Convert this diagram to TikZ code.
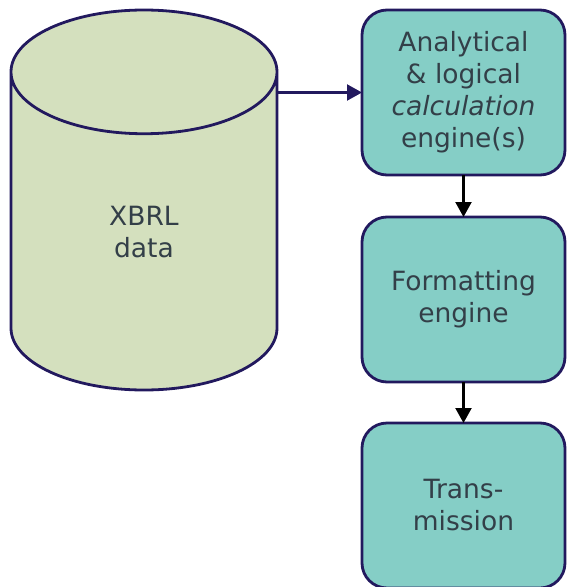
\documentclass[tikz,border=0pt]{standalone}
\usepackage{fontspec}
\setmainfont{DejaVu Sans}
\usetikzlibrary{positioning,shapes.geometric,arrows.meta}
\definecolor{navy}{HTML}{22195E}
\definecolor{sage}{HTML}{D4E0BE}
\definecolor{teal}{HTML}{85CEC6}
\definecolor{slate}{HTML}{333F48}
\begin{document}
\begin{tikzpicture}[x=1pt, y=-1pt,
			engine/.style={
				rectangle,
				rounded corners = 25pt,
				draw = navy,
				line width = 2.8pt,
				fill = teal,
				text = slate,
				align = center,
				font = \fontsize{26.5}{32}\selectfont,
				minimum width = 203pt,
				minimum height = 165pt,
				inner sep = 0pt,
				outer sep = 0pt},
			tank/.style={
				cylinder,
				shape border rotate = 90,
				aspect = 1.78,
				draw = navy,
				line width = 2.8pt,
				fill = sage,
				text = slate,
				align = center,
				font = \fontsize{26.5}{32}\selectfont,
				minimum width = 266pt,
				minimum height = 380pt,
				inner sep = 0pt,
				outer sep = 0pt},
			flow/.style={
				line width = 2.2pt,
				-{Triangle[length=15pt, width=16pt]}}]
			\useasboundingbox (0, 0) rectangle (566, 587);
			\node (xbrl) at (144, 200) [tank, anchor = shape center] {XBRL\\data};
			\node (calc) at (463.5, 92.5) [engine] {Analytical\\\& logical\\\textit{calculation}\\engine(s)};
			\node (format) [engine, below = 42pt of calc] {Formatting\\engine};
			\node (trans) [engine, below = 41pt of format] {Trans-\\mission};
			\draw[flow, navy] (xbrl.east |- calc.west) -- (calc.west);
			\draw[flow] (calc) -- (format);
			\draw[flow] (format) -- (trans);
\end{tikzpicture}
\end{document}
